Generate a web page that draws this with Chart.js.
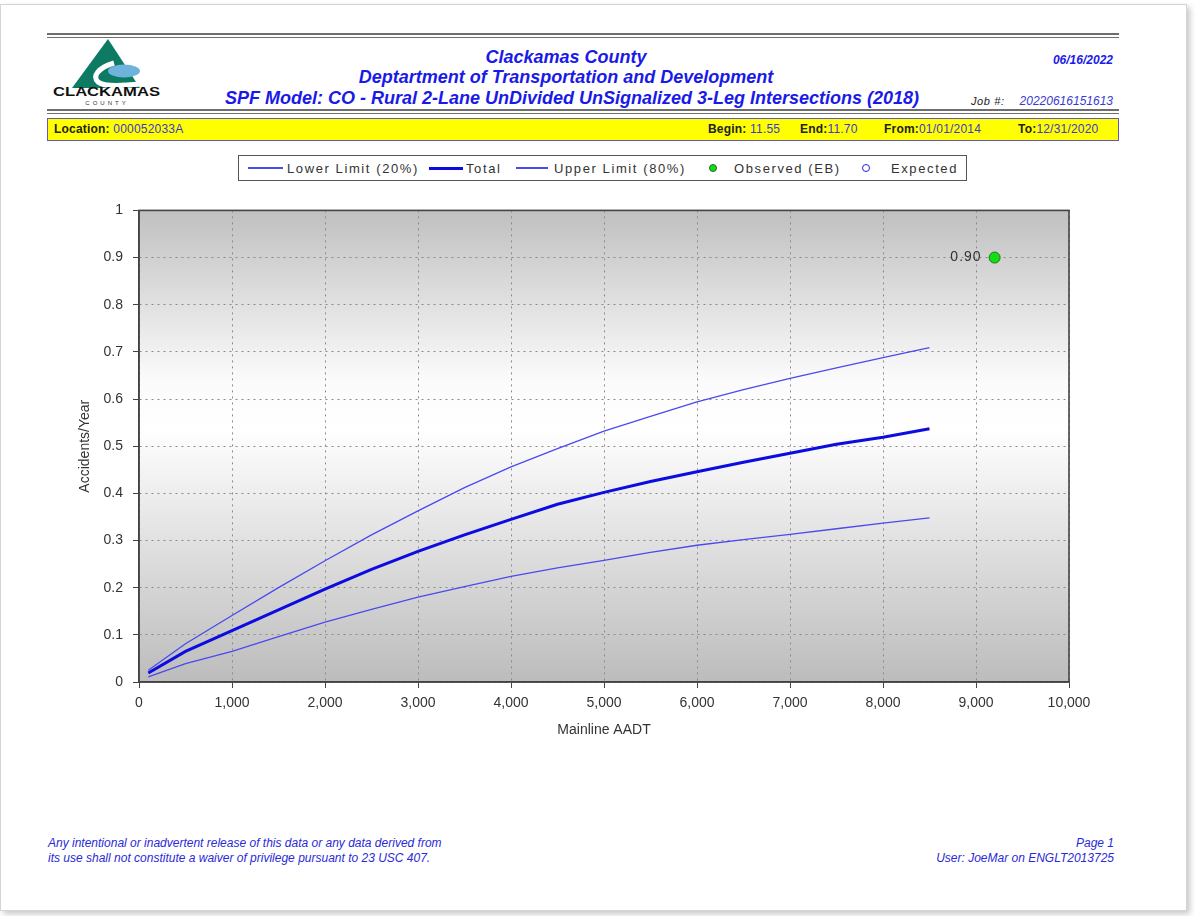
<!DOCTYPE html>
<html>
<head>
<meta charset="utf-8">
<script src="https://cdn.jsdelivr.net/npm/chart.js@4.4.1/dist/chart.umd.min.js"></script>
<style>
  html, body { margin: 0; padding: 0; background: #fff; }
  body { width: 1196px; height: 916px; position: relative; overflow: hidden; font-family: "Liberation Sans", Arial, sans-serif; }
  .sheet { position: absolute; left: 0; top: 4px; width: 1185px; height: 905px; border: 1px solid #d4d4d4; box-shadow: 3px 3px 6px rgba(0,0,0,0.22); background: #fff; }
  .rule { position: absolute; left: 47px; width: 1072px; height: 2px; background: #6e6e6e; }
  .hdr { position: absolute; color: #1a1ae8; font-weight: bold; font-style: italic; white-space: nowrap; }
  .center { left: 0; width: 1132px; text-align: center; }
  .bar { position: absolute; left: 47px; top: 118px; width: 1070px; height: 21px; background: #ffff00; border: 1.5px solid #5c5cc8; font-size: 12px; }
  .bar span { position: absolute; top: 3px; white-space: nowrap; letter-spacing: 0.2px; }
  .bar b { color: #222; }
  .bar i { font-style: normal; color: #3a3ad0; }
  #legend { position: absolute; left: 238px; top: 155px; width: 729px; height: 26px; border: 1px solid #555; box-sizing: border-box; font-size: 13px; color: #333; letter-spacing: 1.6px; }
  #legend .it { position: absolute; top: 4px; white-space: nowrap; display: flex; align-items: center; height: 16px; }
  #legend .ln { display: inline-block; }
  #legend .dot { display: inline-block; width: 8px; height: 8px; border-radius: 50%; box-sizing: border-box; }
  #chartWrap { position: absolute; left: 60px; top: 192px; width: 1040px; height: 558px; }
  .foot { position: absolute; color: #2a2ad8; font-style: italic; font-size: 12px; white-space: nowrap; line-height: 15px; }
</style>
</head>
<body>
<div class="sheet"></div>

<!-- header rules -->
<div class="rule" style="top:33px;"></div>
<div class="rule" style="top:37px;height:1px;"></div>
<div class="rule" style="top:109px;"></div>
<div class="rule" style="top:113px;height:1px;"></div>

<!-- county logo -->
<svg style="position:absolute;left:48px;top:38px;" width="120" height="72" viewBox="0 0 120 72">
  <polygon points="60,1 24,50 92,50" fill="#0d7b63"/>
  <ellipse cx="76" cy="33" rx="16" ry="6.5" fill="#6fb3dd"/>
  <path d="M66,25 C50,30 44,38 50,44 C56,49 72,48 92,46" fill="none" stroke="#ffffff" stroke-width="5"/>
  <text x="5" y="58" font-family="Liberation Sans, Arial" font-weight="bold" font-size="12.5" textLength="107" lengthAdjust="spacingAndGlyphs" fill="#111">CLACKAMAS</text>
  <text x="59" y="67" text-anchor="middle" font-family="Liberation Sans, Arial" font-size="6" letter-spacing="3" fill="#333">COUNTY</text>
</svg>

<div class="hdr center" style="top:47px;font-size:18px;">Clackamas County</div>
<div class="hdr center" style="top:67px;font-size:18px;">Deptartment of Transportation and Development</div>
<div class="hdr" style="left:225px;top:88px;font-size:18px;">SPF Model: CO - Rural 2-Lane UnDivided UnSignalized 3-Leg Intersections (2018)</div>
<div class="hdr" style="right:83px;top:53px;font-size:12px;">06/16/2022</div>
<div style="position:absolute;left:971px;top:95px;font-size:11px;font-style:italic;color:#222;letter-spacing:0.6px;">Job #:</div>
<div style="position:absolute;right:83px;top:94px;font-size:12px;font-style:italic;color:#3a3ad0;">20220616151613</div>

<!-- location bar -->
<div class="bar">
  <span style="left:6px;"><b>Location:</b> <i>000052033A</i></span>
  <span style="left:660px;"><b>Begin:</b> <i>11.55</i></span>
  <span style="left:752px;"><b>End:</b><i>11.70</i></span>
  <span style="left:836px;"><b>From:</b><i>01/01/2014</i></span>
  <span style="left:970px;"><b>To:</b><i>12/31/2020</i></span>
</div>

<div id="legend"></div>

<div id="chartWrap"><canvas id="c" width="1040" height="558"></canvas></div>

<div class="foot" style="left:48px;top:836px;">Any intentional or inadvertent release of this data or any data derived from<br>its use shall not constitute a waiver of privilege pursuant to 23 USC 407.</div>
<div class="foot" style="right:82px;top:836px;text-align:right;">Page 1<br>User: JoeMar on ENGLT2013725</div>

<script>
// Mainline AADT sample points for the SPF curves
const aadt = [100, 500, 1000, 1500, 2000, 2500, 3000, 3500, 4000, 4500, 5000, 5500, 6000, 6500, 7000, 7500, 8000, 8500];

// Predicted accidents/year
const lowerLimit = [0.011, 0.039, 0.065, 0.096, 0.127, 0.154, 0.180, 0.202, 0.224, 0.242, 0.258, 0.275, 0.290, 0.302, 0.313, 0.325, 0.337, 0.348];
const total      = [0.019, 0.065, 0.109, 0.153, 0.197, 0.239, 0.277, 0.312, 0.345, 0.377, 0.402, 0.425, 0.446, 0.466, 0.485, 0.504, 0.519, 0.537];
const upperLimit = [0.025, 0.081, 0.141, 0.200, 0.257, 0.312, 0.363, 0.412, 0.456, 0.495, 0.532, 0.563, 0.594, 0.620, 0.644, 0.666, 0.688, 0.709];

// Observed (EB) site value
const observedAadt = [9200];
const observedRate = [0.90];

// Axis ticks
const xTicks = [0, 1000, 2000, 3000, 4000, 5000, 6000, 7000, 8000, 9000, 10000];
const yTicks = [0, 0.1, 0.2, 0.3, 0.4, 0.5, 0.6, 0.7, 0.8, 0.9, 1];

const toXY = (xs, ys) => xs.map((x, i) => ({ x: x, y: ys[i] }));

const datasets = [
  { label: 'Lower Limit (20%)', data: toXY(aadt, lowerLimit), borderColor: '#4a4aee', borderWidth: 1.3, pointRadius: 0, tension: 0 },
  { label: 'Total', data: toXY(aadt, total), borderColor: '#0c0ce0', borderWidth: 3, pointRadius: 0, tension: 0 },
  { label: 'Upper Limit (80%)', data: toXY(aadt, upperLimit), borderColor: '#4a4aee', borderWidth: 1.3, pointRadius: 0, tension: 0 },
  { label: 'Observed (EB)', type: 'scatter', data: toXY(observedAadt, observedRate), backgroundColor: '#10e010', borderColor: '#2a6a2a', borderWidth: 1, pointRadius: 5.5 },
  { label: 'Expected', type: 'scatter', data: [], backgroundColor: '#ffffff', borderColor: '#2020e0', borderWidth: 1.3, pointRadius: 4 }
];

// Legend box: [marker left, marker width, gap to text]
(function buildLegend() {
  const lg = document.getElementById('legend');
  const layout = [[9, 35, 4], [190, 34, 3], [277, 32, 6], [470, 8, 17], [623, 8, 21]];
  datasets.forEach((ds, i) => {
    const [left, w, gap] = layout[i];
    const it = document.createElement('div');
    it.className = 'it';
    it.style.left = left + 'px';
    const m = document.createElement('span');
    if (ds.type === 'scatter') {
      m.className = 'dot';
      m.style.background = ds.backgroundColor;
      m.style.border = '1.3px solid ' + ds.borderColor;
    } else {
      m.className = 'ln';
      m.style.width = w + 'px';
      m.style.height = (ds.borderWidth >= 2 ? 3 : 1.3) + 'px';
      m.style.background = ds.borderColor;
    }
    m.style.marginRight = gap + 'px';
    it.appendChild(m);
    it.appendChild(document.createTextNode(ds.label));
    lg.appendChild(it);
  });
})();

const FONT = '"Liberation Sans", Arial, sans-serif';

// Shaded plot background, frame and value label
const plotDecor = {
  id: 'plotDecor',
  beforeDraw(chart) {
    const { ctx, chartArea: a } = chart;
    const g = ctx.createLinearGradient(0, a.top, 0, a.bottom);
    g.addColorStop(0, '#c0c0c0');
    g.addColorStop(0.36, '#fbfbfb');
    g.addColorStop(0.46, '#ffffff');
    g.addColorStop(1, '#bcbcbc');
    ctx.save();
    ctx.fillStyle = g;
    ctx.fillRect(a.left, a.top, a.right - a.left, a.bottom - a.top);
    ctx.restore();
  },
  afterDatasetsDraw(chart) {
    const { ctx, chartArea: a, scales } = chart;
    ctx.save();
    ctx.strokeStyle = '#444';
    ctx.lineWidth = 1.6;
    ctx.strokeRect(a.left, a.top, a.right - a.left, a.bottom - a.top);
    ctx.font = '14px ' + FONT;
    ctx.fillStyle = '#333';
    ctx.textAlign = 'right';
    ctx.textBaseline = 'middle';
    if ('letterSpacing' in ctx) ctx.letterSpacing = '1px';
    observedAadt.forEach((x, i) => {
      const px = scales.x.getPixelForValue(x);
      const py = scales.y.getPixelForValue(observedRate[i]);
      ctx.fillText(observedRate[i].toFixed(2), px - 13, py);
    });
    ctx.restore();
  }
};

const gridOpts = { color: '#8a8a8a', tickLength: 6, tickColor: '#444', tickBorderDash: [], lineWidth: 1 };
const borderOpts = { color: '#444', width: 1.5, dash: [2, 4] };

new Chart(document.getElementById('c'), {
  type: 'line',
  data: { datasets: datasets },
  plugins: [plotDecor],
  options: {
    responsive: false,
    animation: false,
    layout: { padding: { top: 11, right: 31, left: 0, bottom: 0 } },
    plugins: { legend: { display: false }, tooltip: { enabled: false } },
    scales: {
      x: {
        type: 'linear',
        min: 0, max: 10000,
        afterBuildTicks: s => { s.ticks = xTicks.map(v => ({ value: v })); },
        afterFit: s => { s.height = 68; },
        ticks: {
          color: '#333', padding: 7, maxRotation: 0,
          font: { family: FONT, size: 14 },
          callback: v => v.toLocaleString('en-US')
        },
        grid: gridOpts,
        border: borderOpts,
        title: { display: true, text: 'Mainline AADT', color: '#333', padding: { top: 0, bottom: 11 }, font: { family: FONT, size: 14 } }
      },
      y: {
        type: 'linear',
        min: 0, max: 1,
        afterBuildTicks: s => { s.ticks = yTicks.map(v => ({ value: v })); },
        afterFit: s => { s.width = 79; },
        ticks: {
          color: '#333', padding: 10,
          font: { family: FONT, size: 14 },
          callback: v => String(Math.round(v * 10) / 10)
        },
        grid: gridOpts,
        border: borderOpts,
        title: { display: true, text: 'Accidents/Year', color: '#333', padding: { top: 17, bottom: 0 }, font: { family: FONT, size: 14 } }
      }
    }
  }
});
</script>
</body>
</html>
